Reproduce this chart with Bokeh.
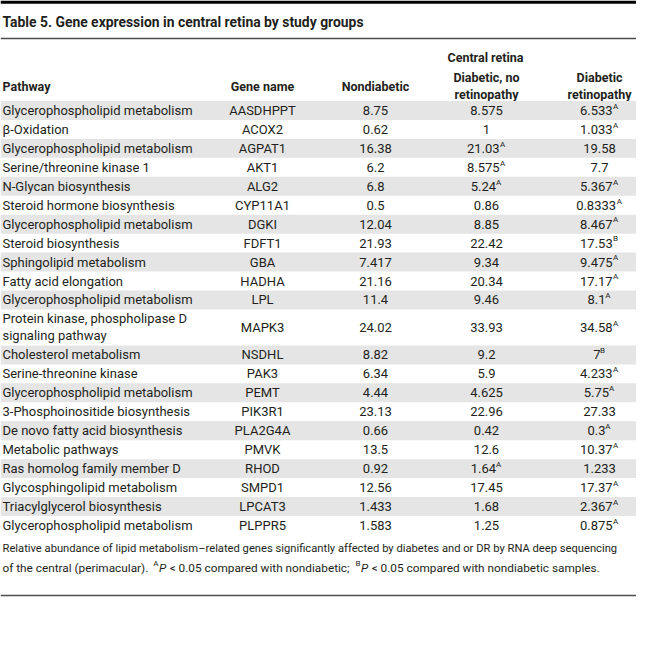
from bokeh.plotting import figure
from bokeh.models import Range1d
from bokeh.core.properties import value
from bokeh.embed import file_html
from bokeh.resources import INLINE

# ---------------- data ----------------
title = "Table 5. Gene expression in central retina by study groups"
group_header = "Central retina"
col_headers = ["Pathway", "Gene name", "Nondiabetic", "Diabetic, no\nretinopathy", "Diabetic\nretinopathy"]

pathways = [
    "Glycerophospholipid metabolism", "β-Oxidation", "Glycerophospholipid metabolism",
    "Serine/threonine kinase 1", "N-Glycan biosynthesis", "Steroid hormone biosynthesis",
    "Glycerophospholipid metabolism", "Steroid biosynthesis", "Sphingolipid metabolism",
    "Fatty acid elongation", "Glycerophospholipid metabolism",
    "Protein kinase, phospholipase D\nsignaling pathway", "Cholesterol metabolism",
    "Serine-threonine kinase", "Glycerophospholipid metabolism", "3-Phosphoinositide biosynthesis",
    "De novo fatty acid biosynthesis", "Metabolic pathways", "Ras homolog family member D",
    "Glycosphingolipid metabolism", "Triacylglycerol biosynthesis", "Glycerophospholipid metabolism",
]
genes = ["AASDHPPT", "ACOX2", "AGPAT1", "AKT1", "ALG2", "CYP11A1", "DGKI", "FDFT1", "GBA", "HADHA",
         "LPL", "MAPK3", "NSDHL", "PAK3", "PEMT", "PIK3R1", "PLA2G4A", "PMVK", "RHOD", "SMPD1",
         "LPCAT3", "PLPPR5"]
nondiabetic = ["8.75", "0.62", "16.38", "6.2", "6.8", "0.5", "12.04", "21.93", "7.417", "21.16",
               "11.4", "24.02", "8.82", "6.34", "4.44", "23.13", "0.66", "13.5", "0.92", "12.56",
               "1.433", "1.583"]
diabetic_no_ret = ["8.575", "1", "21.03", "8.575", "5.24", "0.86", "8.85", "22.42", "9.34", "20.34",
                   "9.46", "33.93", "9.2", "5.9", "4.625", "22.96", "0.42", "12.6", "1.64", "17.45",
                   "1.68", "1.25"]
diabetic_no_ret_sig = ["", "", "A", "A", "A", "", "", "", "", "", "", "", "", "", "", "", "", "",
                       "A", "", "", ""]
diabetic_ret = ["6.533", "1.033", "19.58", "7.7", "5.367", "0.8333", "8.467", "17.53", "9.475",
                "17.17", "8.1", "34.58", "7", "4.233", "5.75", "27.33", "0.3", "10.37", "1.233",
                "17.37", "2.367", "0.875"]
diabetic_ret_sig = ["A", "A", "", "", "A", "A", "A", "B", "A", "A", "A", "A", "B", "A", "A", "",
                    "A", "A", "", "A", "A", "A"]
foot1 = "Relative abundance of lipid metabolism–related genes significantly affected by diabetes and or DR by RNA deep sequencing"
foot2 = [("of the central (perimacular). ", "n"), ("A", "s"), ("P", "i"),
         (" < 0.05 compared with nondiabetic; ", "n"), ("B", "s"), ("P", "i"),
         (" < 0.05 compared with nondiabetic samples.", "n")]

# ---------------- layout helpers ----------------
PW, PH = 636, 632
FONT = "Roboto"
INK = "#231f20"

ADV = {' ': 507, '!': 527, '(': 684, ')': 695, ',': 393, '-': 552, '.': 539, '/': 824, ';': 434,
       '<': 1040, '–': 1356, 'β': 1180,
       'A': 1336, 'B': 1275, 'C': 1333, 'D': 1343, 'E': 1164, 'F': 1132, 'G': 1394, 'H': 1460,
       'I': 557, 'J': 1130, 'K': 1284, 'L': 1102, 'M': 1788, 'N': 1460, 'O': 1408, 'P': 1292,
       'Q': 1408, 'R': 1260, 'S': 1216, 'T': 1221, 'U': 1328, 'V': 1302, 'W': 1814, 'X': 1284,
       'Y': 1229, 'Z': 1225,
       'a': 1087, 'b': 1120, 'c': 1046, 'd': 1126, 'e': 1058, 'f': 694, 'g': 1120, 'h': 1100,
       'i': 486, 'j': 477, 'k': 1013, 'l': 486, 'm': 1753, 'n': 1102, 'o': 1141, 'p': 1120,
       'q': 1126, 'r': 677, 's': 1031, 't': 654, 'u': 1100, 'v': 968, 'w': 1502, 'x': 991,
       'y': 946, 'z': 991}
for d in "0123456789":
    ADV[d] = 1150
CAL = 1.035  # calibration of the estimate against the rendered font


def em(s):
    return CAL * sum(ADV.get(c, 1100) for c in s) / 2048.0


body_fs = 13.0
head_fs = 12.5
title_fs = 13.9
sup_fs = 8.0
foot_fs = 11.8
foot1_fs = min(foot_fs, 624.0 / em(foot1))

p = figure(width=PW, height=PH, x_range=Range1d(0, PW), y_range=Range1d(PH, 0),
           output_backend="svg", toolbar_location=None, min_border=0,
           background_fill_color="white", border_fill_color="white")
p.axis.visible = False
p.grid.visible = False
p.outline_line_color = None


def txt(x, y, s, fs, align="left", style="normal", color=INK):
    p.text(x=[x], y=[y], text=[s], text_align=align, text_baseline="middle",
           text_font=value(FONT), text_font_size=value(f"{fs:.2f}px"),
           text_font_style=style, text_color=color)


# rules
p.quad(left=[0], right=[PW], top=[0], bottom=[3.2], fill_color="black", line_color=None)
p.segment(x0=[0], x1=[PW], y0=[38], y1=[38], line_color="#4d4d4d", line_width=1.3)
p.segment(x0=[0], x1=[PW], y0=[595], y1=[595], line_color="#4d4d4d", line_width=1.3)

# title
txt(2, 21, title, title_fs, style="bold")

# column positions
x_path = 2
cx = [262, 375, 486, 599]

# headers
txt(485, 57, group_header, head_fs, align="center", style="bold")
txt(x_path, 85.5, col_headers[0], head_fs, style="bold")
txt(cx[0], 85.5, col_headers[1], head_fs, align="center", style="bold")
txt(cx[1], 85.5, col_headers[2], head_fs, align="center", style="bold")
for c, hdr in zip(cx[2:], col_headers[3:]):
    l1, l2 = hdr.split("\n")
    txt(c, 77, l1, head_fs, align="center", style="bold")
    txt(c, 94, l2, head_fs, align="center", style="bold")

# rows
row_top = 100.5
h1 = 18.95
h2 = 36.0
tops, bots = [], []
y = row_top
for pw in pathways:
    hh = h2 if "\n" in pw else h1
    tops.append(y)
    bots.append(y + hh)
    y += hh

shade_t = [t for i, t in enumerate(tops) if i % 2 == 0]
shade_b = [b for i, b in enumerate(bots) if i % 2 == 0]
p.quad(left=0, right=PW, top=shade_t, bottom=shade_b, fill_color="#e5e5e5", line_color=None)


def cell(c, yc, num, sup):
    if not sup:
        txt(c, yc, num, body_fs, align="center")
        return
    wn = em(num) * body_fs
    ws = em(sup) * sup_fs
    left = c - (wn + ws) / 2
    txt(left, yc, num, body_fs)
    txt(left + wn - 0.8, yc - 4.2, sup, sup_fs)


for i, pw in enumerate(pathways):
    yc = (tops[i] + bots[i]) / 2
    if "\n" in pw:
        a, b = pw.split("\n")
        txt(x_path, yc - 8.5, a, body_fs)
        txt(x_path, yc + 8.5, b, body_fs)
    else:
        txt(x_path, yc, pw, body_fs)
    txt(cx[0], yc, genes[i], body_fs, align="center")
    cell(cx[1], yc, nondiabetic[i], "")
    cell(cx[2], yc, diabetic_no_ret[i], diabetic_no_ret_sig[i])
    cell(cx[3], yc, diabetic_ret[i], diabetic_ret_sig[i])

# footnote
f1y, f2y = 548, 567
txt(2, f1y, foot1, foot1_fs)
xx = 2.0
for s, kind in foot2:
    fs = sup_fs if kind == "s" else foot_fs
    lead = len(s) - len(s.lstrip(" "))
    xx += em(" " * lead) * fs
    core = s.strip(" ")
    if kind == "s":
        txt(xx, f2y - 4, core, fs)
        xx += em(core) * fs + 0.3
    elif kind == "i":
        txt(xx, f2y, core, fs, style="italic")
        xx += em(core) * fs
    else:
        txt(xx, f2y, core, fs)
        xx += em(s.lstrip(" ")) * fs

open("out.html", "w").write(file_html(p, INLINE))
